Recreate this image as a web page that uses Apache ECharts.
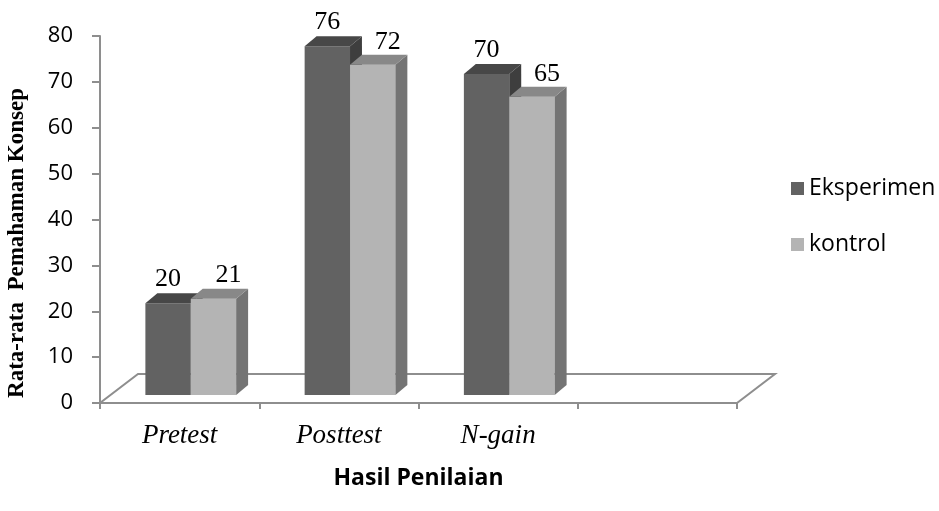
<!DOCTYPE html>
<html>
<head>
<meta charset="utf-8">
<script src="https://cdn.jsdelivr.net/npm/echarts@6/dist/echarts.min.js"></script>
<style>
  html, body { margin: 0; padding: 0; background: #fff; }
  #chart { width: 939px; height: 511px; }
</style>
</head>
<body>
<div id="chart"></div>
<script>
// Mean concept-understanding scores per assessment
const categories = ['Pretest', 'Posttest', 'N-gain', ''];
const eksperimen = [20, 76, 70];
const kontrol = [21, 72, 65];
const yTicks = [0, 10, 20, 30, 40, 50, 60, 70, 80];

const chart = echarts.init(document.getElementById('chart'));

const SANS = '"Open Sans", "Liberation Sans", sans-serif';
const SERIF = '"Liberation Serif", "DejaVu Serif", serif';

// Shaded faces for each bar colour: front, top, side
const palette = {
  dark:  { front: '#626262', top: '#474747', side: '#3e3e3e' },
  light: { front: '#b4b4b4', top: '#888888', side: '#747474' }
};

// Draws a pseudo-3D box for one value, placed inside its category band
function boxRenderer(kind) {
  const c = palette[kind];
  return function (params, api) {
    const cat = api.value(0);
    const val = api.value(1);
    const top = api.coord([cat, val]);
    const base = api.coord([cat, 0]);
    const band = api.size([1, 0])[0];
    const w = band * 0.285;
    const dx = band * 0.075;
    const dy = 10;
    const shiftX = band * 0.07;
    const shiftY = 8;
    const x0 = base[0] + shiftX + (kind === 'dark' ? -w : 0);
    const yb = base[1] - shiftY;
    const yt = top[1] - shiftY;
    const labelDx = kind === 'dark' ? 0 : 15;
    const labelDy = kind === 'dark' ? 14 : 13;
    return {
      type: 'group',
      children: [
        { type: 'rect', shape: { x: x0, y: yt, width: w, height: yb - yt }, style: { fill: c.front } },
        { type: 'polygon', shape: { points: [[x0 + w, yt], [x0 + w + dx, yt - dy], [x0 + w + dx, yb - dy], [x0 + w, yb]] }, style: { fill: c.side } },
        { type: 'polygon', shape: { points: [[x0, yt], [x0 + w, yt], [x0 + w + dx, yt - dy], [x0 + dx, yt - dy]] }, style: { fill: c.top } },
        { type: 'text', style: {
            text: String(val), x: x0 + w / 2 + labelDx, y: yt - dy - labelDy,
            align: 'center', verticalAlign: 'middle',
            font: '26px ' + SERIF, fill: '#000'
          } }
      ]
    };
  };
}

// Floor plane of the 3D plot area
function floorRenderer(params, api) {
  const cs = params.coordSys;
  const x = cs.x, y = cs.y + cs.height, w = cs.width;
  const ddx = 38, ddy = 29;
  return {
    type: 'polygon',
    shape: { points: [[x, y], [x + w, y], [x + w + ddx, y - ddy], [x + ddx, y - ddy]] },
    style: { fill: '#fff', stroke: '#8e8e8e', lineWidth: 2 }
  };
}

chart.setOption({
  animation: false,
  grid: { left: 100, top: 36, width: 637, height: 367 },
  legend: {
    orient: 'vertical', left: 786, top: 172, itemGap: 33,
    itemWidth: 13, itemHeight: 13, icon: 'rect',
    textStyle: { fontFamily: SANS, fontSize: 23, color: '#000' },
    data: ['Eksperimen', 'kontrol']
  },
  xAxis: {
    type: 'category', data: categories,
    axisLine: { lineStyle: { color: '#8e8e8e', width: 2 } },
    axisTick: { show: true, length: 6, interval: 0, lineStyle: { color: '#8e8e8e', width: 2 } },
    axisLabel: { interval: 0, margin: 19, fontFamily: SERIF, fontStyle: 'italic', fontSize: 27, color: '#000' },
    name: 'Hasil Penilaian', nameLocation: 'middle', nameGap: 64,
    nameTextStyle: { fontFamily: SANS, fontWeight: 'bold', fontSize: 23, color: '#000' }
  },
  yAxis: {
    type: 'value', min: yTicks[0], max: yTicks[yTicks.length - 1], interval: yTicks[1] - yTicks[0],
    axisLine: { show: true, lineStyle: { color: '#8e8e8e', width: 2 } },
    axisTick: { show: true, length: 8, lineStyle: { color: '#8e8e8e', width: 2 } },
    axisLabel: { margin: 27, fontFamily: SANS, fontSize: 22, color: '#000' },
    splitLine: { show: false }
  },
  graphic: [{
    type: 'text', x: 17, y: 243, rotation: Math.PI / 2,
    style: {
      text: 'Rata-rata  Pemahaman Konsep', align: 'center', verticalAlign: 'middle',
      font: 'bold 23px ' + SERIF, fill: '#000'
    }
  }],
  series: [
    { type: 'custom', name: 'floor', renderItem: floorRenderer, data: [[0, 0]], z: 1, silent: true },
    {
      type: 'custom', name: 'Eksperimen', renderItem: boxRenderer('dark'),
      itemStyle: { color: palette.dark.front }, encode: { x: 0, y: 1 }, z: 2,
      data: eksperimen.map((v, i) => [i, v])
    },
    {
      type: 'custom', name: 'kontrol', renderItem: boxRenderer('light'),
      itemStyle: { color: palette.light.front }, encode: { x: 0, y: 1 }, z: 3,
      data: kontrol.map((v, i) => [i, v])
    }
  ]
});
</script>
</body>
</html>
